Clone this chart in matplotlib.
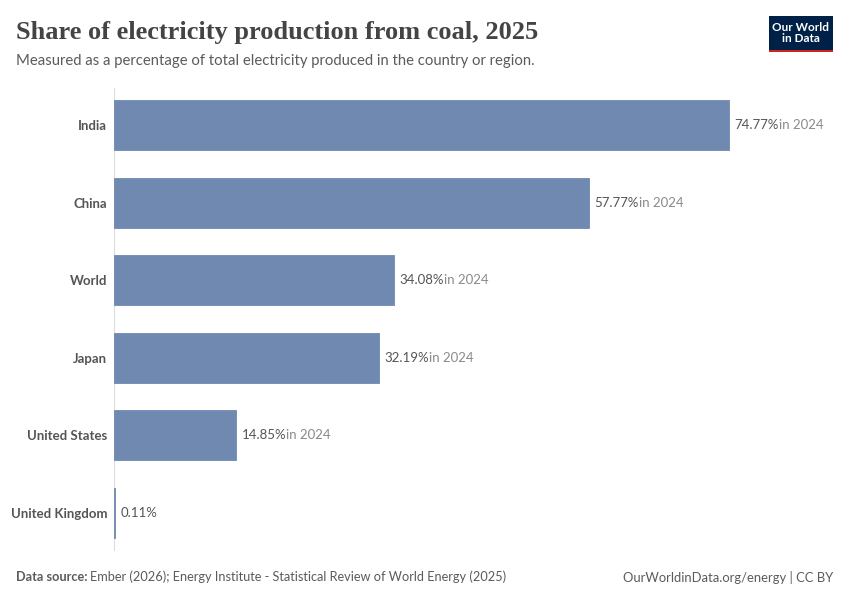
import matplotlib
matplotlib.use("Agg")
import matplotlib.pyplot as plt
from matplotlib.patches import Rectangle

countries = ["India", "China", "World", "Japan", "United States", "United Kingdom"]
values = [74.77, 57.77, 34.08, 32.19, 14.85, 0.11]
notes = ["in 2024", "in 2024", "in 2024", "in 2024", "in 2024", ""]

W, H = 850, 600
fig = plt.figure(figsize=(8.5, 6), dpi=100)
fig.patch.set_facecolor("white")

ax_l, ax_r, ax_t, ax_b = 114, 830, 88, 550
ax = fig.add_axes([ax_l / W, 1 - ax_b / H, (ax_r - ax_l) / W, (ax_b - ax_t) / H])
px_per_unit = (729 - 114) / 74.77
ax.set_xlim(0, (ax_r - ax_l) / px_per_unit)
ax.set_ylim(5.477, -0.477)

pos = list(range(len(countries)))
bar_color = "#6f89b1"
ax.barh(pos, values, height=0.645, color=bar_color, edgecolor=bar_color, linewidth=0.6, zorder=3)

for s in ["top", "right", "bottom"]:
    ax.spines[s].set_visible(False)
ax.spines["left"].set_color("#dddddd")
ax.spines["left"].set_linewidth(0.8)
ax.spines["left"].set_zorder(1)
ax.set_xticks([])
ax.set_yticks(pos)
ax.set_yticklabels(countries, fontfamily="Lato", fontweight="bold", fontsize=9.5, color="#555555")
ax.tick_params(axis="y", length=0, pad=5)

fig.canvas.draw()
for p, v, n in zip(pos, values, notes):
    t = ax.annotate(f"{v:.2f}%", xy=(v, p), xytext=(4, 0), textcoords="offset points",
                    va="center", ha="left", fontfamily="Lato", fontsize=9.5, color="#555555")
    if n:
        fig.canvas.draw()
        bb = t.get_window_extent()
        fig.text(bb.x1 / W, (bb.y0 + bb.y1) / 2 / H, n, va="center", ha="left",
                 fontfamily="Lato", fontsize=9.5, color="#8a8a8a")

fig.text(16 / W, 1 - 33 / H, "Share of electricity production from coal, 2025",
         fontfamily="Liberation Serif", fontweight="bold", fontsize=19, color="#444444",
         va="center", ha="left")
fig.text(16 / W, 1 - 61 / H, "Measured as a percentage of total electricity produced in the country or region.",
         fontfamily="Lato", fontsize=10.7, color="#5b5b5b", va="center", ha="left")

ds = fig.text(16 / W, 1 - 577 / H, "Data source:", fontfamily="Lato", fontweight="bold",
              fontsize=9.2, color="#5b5b5b", va="center", ha="left")
fig.canvas.draw()
dbb = ds.get_window_extent()
fig.text((dbb.x1 + 3) / W, 1 - 577 / H,
         "Ember (2026); Energy Institute - Statistical Review of World Energy (2025)",
         fontfamily="Lato", fontsize=9.2, color="#5b5b5b", va="center", ha="left")
fig.text(833 / W, 1 - 577 / H, "OurWorldinData.org/energy | CC BY",
         fontfamily="Lato", fontsize=9.4, color="#5b5b5b", va="center", ha="right")

# logo
lx0, lx1, ly0, ly1 = 769, 833, 16, 52
fig.patches.append(Rectangle((lx0 / W, 1 - ly1 / H), (lx1 - lx0) / W, (ly1 - ly0) / H,
                             transform=fig.transFigure, facecolor="#002147", edgecolor="none"))
fig.patches.append(Rectangle((lx0 / W, 1 - ly1 / H), (lx1 - lx0) / W, 2.5 / H,
                             transform=fig.transFigure, facecolor="#ce261e", edgecolor="none"))
fig.text((lx0 + lx1) / 2 / W, 1 - 33 / H, "Our World\nin Data", fontfamily="Lato", fontsize=8.5,
         fontweight="bold", color="white", ha="center", va="center", linespacing=1.0)

fig.savefig("out.png", dpi=100, facecolor="white")
